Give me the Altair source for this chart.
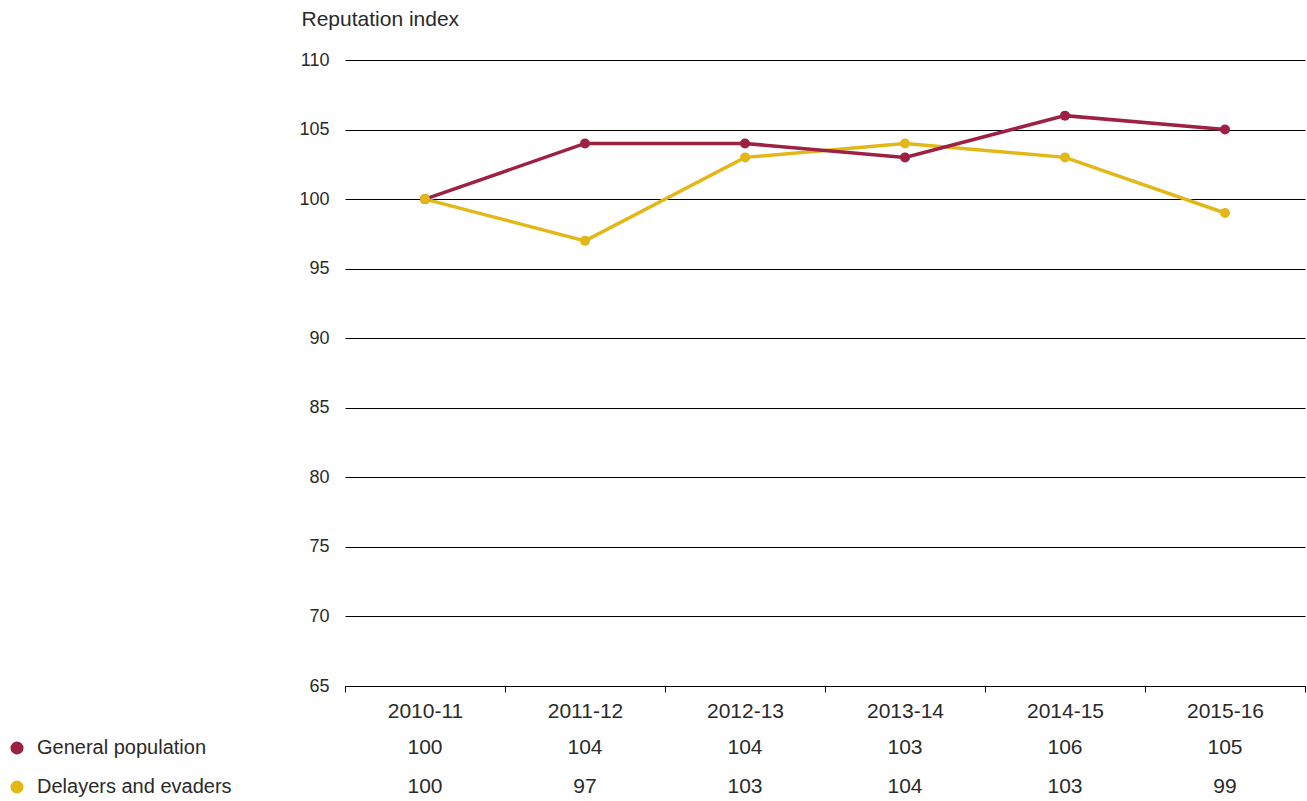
import altair as alt
import pandas as pd

years = ["2010-11", "2011-12", "2012-13", "2013-14", "2014-15", "2015-16"]
general = [100, 104, 104, 103, 106, 105]
delayers = [100, 97, 103, 104, 103, 99]
series_names = ["General population", "Delayers and evaders"]
series_colors = ["#9C2142", "#E1B818"]

rows = []
for s, vals in zip(series_names, [general, delayers]):
    for y, v in zip(years, vals):
        rows.append({"year": y, "value": v, "series": s})
df = pd.DataFrame(rows)

FONT = "Liberation Sans"
TXT = "#2a2a2a"
W, H = 960, 626
PAD_L, PAD_T = 345, 60

x_enc = alt.X("year:N", sort=years,
              scale=alt.Scale(type="band", paddingInner=0, paddingOuter=0),
              axis=alt.Axis(title=None, labelAngle=0, tickBand="extent",
                            domainColor="#000", tickColor="#000", tickSize=6,
                            domainWidth=1, tickWidth=1,
                            labelFont=FONT, labelFontSize=21, labelBaseline="middle",
                            labelColor=TXT, labelPadding=19, grid=False))
y_enc = alt.Y("value:Q",
              scale=alt.Scale(domain=[65, 110], nice=False, zero=False),
              axis=alt.Axis(values=list(range(65, 111, 5)), title="Reputation index",
                            titleAngle=0, titleX=-44, titleY=-41, titleAlign="left",
                            titleBaseline="middle", titleFont=FONT, titleFontSize=21,
                            titleFontWeight="normal", titleColor=TXT,
                            labelFont=FONT, labelFontSize=18,
                            labelColor=TXT, labelPadding=16, ticks=False, domain=False,
                            grid=True, gridColor="#000", gridWidth=1, gridOpacity=1))
color_enc = alt.Color("series:N", scale=alt.Scale(domain=series_names, range=series_colors),
                      legend=None)

base = alt.Chart(df)
layers = []
for s in reversed(series_names):
    sub = base.transform_filter(alt.datum.series == s)
    layers.append(sub.mark_line(strokeWidth=3.5).encode(x=x_enc, y=y_enc, color=color_enc))
for s in series_names:
    sub = base.transform_filter(alt.datum.series == s)
    layers.append(sub.mark_circle(size=100, opacity=1).encode(x=x_enc, y=y_enc, color=color_enc))

row_y = [688, 727]
for s, ry in zip(series_names, row_y):
    sub = base.transform_filter(alt.datum.series == s)
    layers.append(sub.mark_text(font=FONT, fontSize=21, color=TXT,
                                baseline="middle", align="center").encode(
        x=alt.X("year:N", sort=years), y=alt.value(ry), text="value:Q"))
    leg = alt.Chart(pd.DataFrame({"series": [s]}))
    layers.append(leg.mark_circle(size=170, opacity=1).encode(
        x=alt.value(17 - PAD_L), y=alt.value(ry), color=color_enc))
    layers.append(leg.mark_text(font=FONT, fontSize=20, color=TXT,
                                baseline="middle", align="left").encode(
        x=alt.value(37 - PAD_L), y=alt.value(ry), text="series:N"))

chart = alt.layer(*layers).properties(
    width=W, height=H,
    autosize=alt.AutoSizeParams(type="none"),
    padding={"left": PAD_L, "top": PAD_T, "right": 2, "bottom": 115},
    background="white",
).configure_view(stroke=None)

chart.save("out.html", embed_options={"renderer": "svg", "actions": False})
